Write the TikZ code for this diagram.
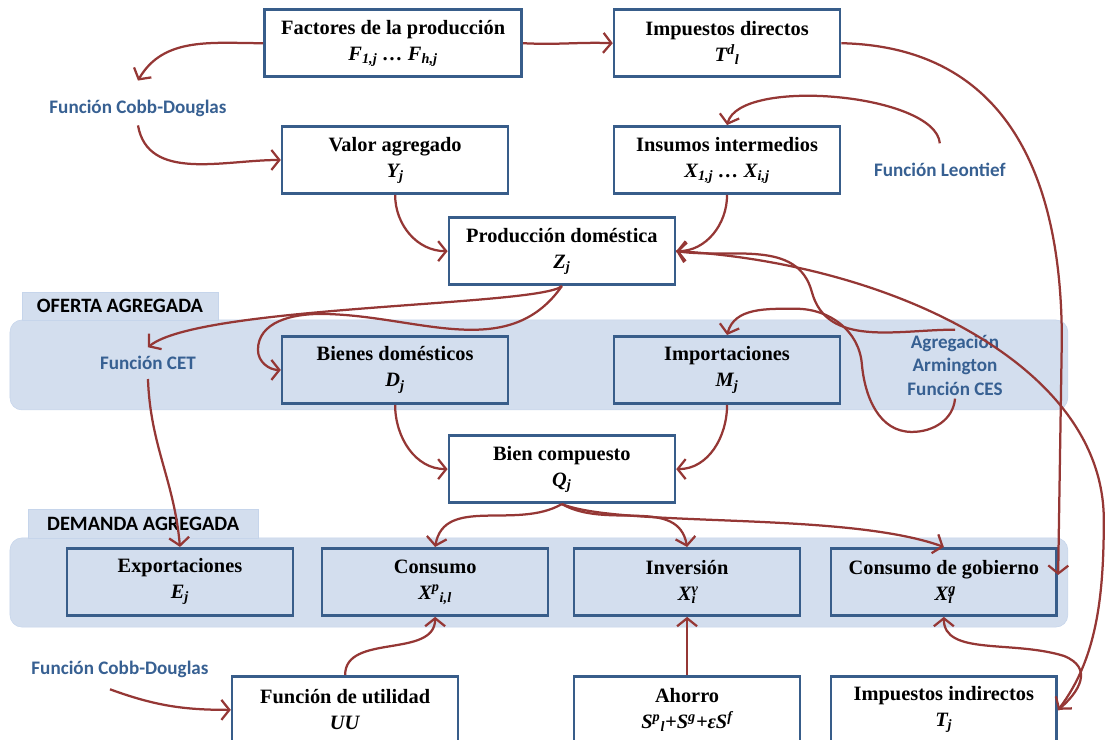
\documentclass[tikz,border=0pt]{standalone}
\usepackage{fontspec}
\setmainfont{Liberation Serif}
\newfontfamily\calibri{Carlito}
\usetikzlibrary{arrows.meta}

\definecolor{boxblue}{RGB}{56,93,138}
\definecolor{arrowred}{RGB}{149,55,53}
\definecolor{labelblue}{RGB}{55,96,146}
\definecolor{panelfill}{RGB}{211,222,238}
\definecolor{paneledge}{RGB}{198,213,235}

\begin{document}
\begin{tikzpicture}[align = center, >={Straight Barb[length = 2mm, width = 5mm]},
    box/.style = {draw = boxblue, line width = 1.9pt, fill = white, minimum width = 5.65cm, minimum height = 1.68cm, inner sep = 0pt, font = \fontsize{14.5}{18.5}\selectfont\bfseries},
    inbox/.style = {box, fill = none},
    func/.style = {text = labelblue, inner sep = 2pt, font = \fontsize{13.6}{16.8}\selectfont\calibri\bfseries},
    tab/.style = {fill = panelfill, draw = paneledge, inner sep = 0pt, font = \fontsize{14.5}{16}\selectfont\calibri\bfseries},
    flow/.style = {->, draw = arrowred, line width = 1.6pt}]
        \useasboundingbox (0, 0) rectangle (27.68, -18.5);
        \clip (0, 0) rectangle (27.68, -18.5);

        % the two blue bands
        \fill[panelfill, draw = paneledge, rounded corners = 0.3cm] (0.25, -8.0) rectangle (26.7, -10.25);
        \fill[panelfill, draw = paneledge, rounded corners = 0.3cm] (0.25, -13.45) rectangle (26.7, -15.68);
        \node[tab, minimum width = 4.9cm, minimum height = 0.68cm] (t1) at (3.0, -7.66) {OFERTA AGREGADA};
        \node[tab, minimum width = 5.75cm, minimum height = 0.72cm] (t2) at (3.58, -13.09) {DEMANDA AGREGADA};

        \node[box, minimum width = 6.43cm] (1) at (9.83, -1.08) {Factores de la producción \\ \textit{F\textsubscript{1,j} … F\textsubscript{h,j}}};
        \node[box] (2) at (18.18, -1.08) {Impuestos directos \\ \textit{T\textsuperscript{d}\textsubscript{l}}};
        \node[box] (3) at (9.88, -4.0) {Valor agregado \\ \textit{Y\textsubscript{j}}};
        \node[box] (4) at (18.18, -4.0) {Insumos intermedios \\ \textit{X\textsubscript{1,j} … X\textsubscript{i,j}}};
        \node[box] (5) at (14.05, -6.28) {Producción doméstica \\ \textit{Z\textsubscript{j}}};
        \node[inbox] (6) at (9.88, -9.25) {Bienes domésticos \\ \textit{D\textsubscript{j}}};
        \node[inbox] (7) at (18.18, -9.25) {Importaciones \\ \textit{M\textsubscript{j}}};
        \node[box] (8) at (14.05, -11.73) {Bien compuesto \\ \textit{Q\textsubscript{j}}};
        \node[inbox] (9) at (4.5, -14.55) {Exportaciones \\ \textit{E\textsubscript{j}}};
        \node[inbox] (10) at (10.88, -14.55) {Consumo \\ \textit{X\textsuperscript{p}\textsubscript{i,l}}};
        \node[inbox] (11) at (17.18, -14.55) {Inversión \\ \textit{X\rlap{\textsuperscript{v}}\textsubscript{i}}};
        \node[inbox] (12) at (23.6, -14.55) {Consumo de gobierno \\ \textit{X\rlap{\textsuperscript{g}}\textsubscript{i}}};
        \node[box] (13) at (8.63, -17.75) {Función de utilidad \\ \textit{UU}};
        \node[box] (14) at (17.18, -17.75) {Ahorro \\ \textit{S\textsuperscript{p}\textsubscript{l}+S\textsuperscript{g}+εS\textsuperscript{f}}};
        \node[box] (15) at (23.6, -17.75) {Impuestos indirectos \\ \textit{T\textsubscript{j}}};

        \node[func] (f1) at (3.45, -2.7) {Función Cobb-Douglas};
        \node[func] (f2) at (23.5, -4.25) {Función Leontief};
        \node[func] (f3) at (3.7, -9.08) {Función CET};
        \node[func] (f4) at (23.88, -9.13) {Agregación \\ Armington \\ Función CES};
        \node[func] (f5) at (3.0, -16.75) {Función Cobb-Douglas};

        % production block
        \draw[flow] (1.east) to[out = -3, in = 178] (2.west);
        \draw[flow] (1.west) to[out = 180, in = 60] ([yshift = 0.4cm]f1.north);
        \draw[flow] ([yshift = -0.15cm]f1.south) to[out = -80, in = 180] (3.west);
        \draw[flow] (3.south) to[out = -90, in = 180] (5.west);
        \draw[flow] (4.south) to[out = -90, in = 0] (5.east);
        \draw[flow] ([yshift = 0.42cm]f2.north) to[out = 95, in = 75, looseness = 0.6] (4.north);
        \draw[flow] (2.east) .. controls +(4.5, -0.1) and +(0, 3.5) .. (26.55, -8.5) -- ([yshift = -0.7cm]12.north east);

        % supply side
        \draw[flow] (5.south) .. controls +(-0.55, -0.5) and +(1.3, 1.05) .. ([yshift = 0.15cm]f3.north);
        \draw[flow] (5.south) to[out = -125, in = 0] (8.0, -7.85) to[out = 180, in = 90] (6.45, -8.75) to[out = -90, in = 180] (6.west);
        \draw[flow] ([yshift = -0.15cm]f3.south) to[out = -88, in = 95] (9.north);
        \draw[flow] (6.south) to[out = -90, in = 180] (8.west);
        \draw[flow] (7.south) to[out = -90, in = 0] (8.east);
        \draw[flow] ([yshift = 0.05cm]f4.north) to[out = 180, in = -75] (20.3, -7.3) to[out = 105, in = -8] (5.east);
        \draw[flow] (f4.south) to[out = -95, in = 0] (22.8, -10.8) to[out = 180, in = -85] (21.55, -9.1) to[out = 95, in = 0] (19.9, -7.72) to[out = 180, in = 75] (7.north);
        \draw[flow] (5.east) .. controls (22.0, -6.55) and (27.6, -9.0) .. (27.6, -13.0) .. controls (27.6, -15.0) and (27.4, -16.5) .. (15.east);
        \draw[flow] (15.east) .. controls (27.0, -17.3) and (27.35, -16.7) .. (26.6, -16.4) .. controls (25.3, -16.0) and (23.6, -16.4) .. (12.south);

        % demand side
        \draw[flow] (8.south) to[out = -150, in = 80] (10.north);
        \draw[flow] (8.south) to[out = -30, in = 100] (11.north);
        \draw[flow] (8.south) .. controls +(1.5, -0.6) and +(-2.5, 0.9) .. (12.north);
        \draw[flow] (13.north) to[out = 90, in = -90] (10.south);
        \draw[flow] ([xshift = -0.25cm, yshift = -0.2cm]f5.south) to[out = -20, in = 180] (13.west);
        \draw[flow] (14.north) -- (11.south);
\end{tikzpicture}
\end{document}
